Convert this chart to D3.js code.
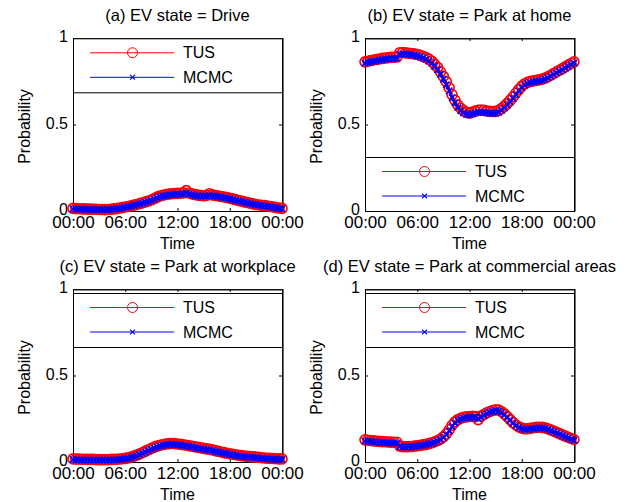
<!DOCTYPE html>
<html>
<head>
<meta charset="utf-8">
<script src="https://cdn.jsdelivr.net/npm/d3@7"></script>
<style>
    body { margin: 0; background: #fff; }
    svg { display: block; }
</style>
</head>
<body>
<svg id="chart" width="628" height="502"></svg>
<script>
// === Data: EV state probability over the day (20-min steps, 00:00 -> 24:00) ===
const xTickHours = [0, 6, 12, 18, 24];
const xTickLabels = ['00:00', '06:00', '12:00', '18:00', '00:00'];
const yTicks = [0, 0.5, 1];
const seriesNames = ['TUS', 'MCMC'];
const panelTitles = [
    '(a) EV state = Drive',
    '(b) EV state = Park at home',
    '(c) EV state = Park at workplace',
    '(d) EV state = Park at commercial areas'
];

const driveTUS = [0.015, 0.014, 0.013, 0.012, 0.012, 0.011, 0.011, 0.010, 0.010, 0.009, 0.009, 0.008,
    0.009, 0.010, 0.012, 0.014, 0.017, 0.020, 0.023, 0.026, 0.030, 0.034, 0.038, 0.043,
    0.048, 0.053, 0.058, 0.064, 0.072, 0.080, 0.087, 0.091, 0.095, 0.098, 0.100, 0.101,
    0.102, 0.103, 0.105, 0.118, 0.104, 0.099, 0.095, 0.092, 0.090, 0.088, 0.090, 0.100,
    0.093, 0.090, 0.087, 0.084, 0.081, 0.078, 0.074, 0.070, 0.066, 0.061, 0.057, 0.053,
    0.049, 0.045, 0.041, 0.038, 0.035, 0.033, 0.031, 0.029, 0.026, 0.023, 0.020, 0.017, 0.015];
const driveMCMC = [0.012, 0.011, 0.010, 0.010, 0.009, 0.009, 0.008, 0.008, 0.008, 0.007, 0.007, 0.007,
    0.008, 0.009, 0.011, 0.013, 0.015, 0.018, 0.021, 0.024, 0.028, 0.032, 0.036, 0.040,
    0.045, 0.050, 0.055, 0.061, 0.068, 0.076, 0.083, 0.087, 0.090, 0.093, 0.095, 0.096,
    0.097, 0.098, 0.099, 0.104, 0.098, 0.094, 0.090, 0.088, 0.086, 0.085, 0.086, 0.089,
    0.088, 0.086, 0.083, 0.080, 0.077, 0.074, 0.070, 0.066, 0.062, 0.058, 0.054, 0.050,
    0.046, 0.042, 0.039, 0.036, 0.033, 0.031, 0.029, 0.027, 0.024, 0.021, 0.018, 0.015, 0.013];

const homeTUS = [0.862, 0.866, 0.870, 0.873, 0.876, 0.879, 0.882, 0.884, 0.886, 0.888, 0.889, 0.890,
    0.915, 0.916, 0.914, 0.912, 0.910, 0.908, 0.905, 0.900, 0.894, 0.887, 0.878, 0.866,
    0.848, 0.830, 0.805, 0.778, 0.748, 0.712, 0.672, 0.640, 0.612, 0.594, 0.580, 0.570,
    0.566, 0.572, 0.578, 0.582, 0.584, 0.582, 0.578, 0.576, 0.575, 0.576, 0.582, 0.592,
    0.606, 0.622, 0.640, 0.660, 0.682, 0.703, 0.722, 0.735, 0.744, 0.749, 0.752, 0.755,
    0.758, 0.762, 0.768, 0.776, 0.785, 0.795, 0.805, 0.814, 0.823, 0.833, 0.843, 0.853, 0.862];
const homeMCMC = [0.855, 0.858, 0.862, 0.866, 0.869, 0.872, 0.875, 0.877, 0.879, 0.881, 0.882, 0.884,
    0.905, 0.908, 0.907, 0.905, 0.903, 0.900, 0.896, 0.891, 0.885, 0.877, 0.867, 0.854,
    0.836, 0.816, 0.790, 0.762, 0.730, 0.695, 0.656, 0.625, 0.598, 0.580, 0.567, 0.558,
    0.556, 0.561, 0.566, 0.570, 0.572, 0.570, 0.567, 0.565, 0.564, 0.565, 0.571, 0.582,
    0.596, 0.612, 0.630, 0.650, 0.672, 0.694, 0.713, 0.727, 0.737, 0.743, 0.746, 0.749,
    0.752, 0.756, 0.762, 0.770, 0.779, 0.789, 0.799, 0.808, 0.817, 0.827, 0.837, 0.847, 0.856];

const workTUS = [0.018, 0.017, 0.017, 0.016, 0.016, 0.015, 0.015, 0.015, 0.014, 0.014, 0.014, 0.014,
    0.014, 0.015, 0.015, 0.016, 0.017, 0.019, 0.021, 0.024, 0.028, 0.034, 0.040, 0.047,
    0.055, 0.063, 0.071, 0.079, 0.086, 0.092, 0.097, 0.101, 0.104, 0.106, 0.107, 0.106,
    0.104, 0.102, 0.100, 0.097, 0.094, 0.091, 0.088, 0.085, 0.082, 0.079, 0.076, 0.073,
    0.070, 0.066, 0.062, 0.058, 0.054, 0.051, 0.048, 0.045, 0.042, 0.039, 0.037, 0.035,
    0.033, 0.031, 0.030, 0.029, 0.027, 0.025, 0.023, 0.022, 0.021, 0.020, 0.019, 0.018, 0.018];
const workMCMC = [0.014, 0.013, 0.013, 0.012, 0.012, 0.012, 0.011, 0.011, 0.011, 0.011, 0.011, 0.011,
    0.011, 0.012, 0.012, 0.013, 0.014, 0.016, 0.018, 0.021, 0.025, 0.030, 0.036, 0.043,
    0.050, 0.058, 0.066, 0.074, 0.081, 0.087, 0.092, 0.096, 0.099, 0.101, 0.102, 0.101,
    0.099, 0.097, 0.095, 0.092, 0.089, 0.086, 0.083, 0.080, 0.077, 0.074, 0.071, 0.068,
    0.065, 0.061, 0.057, 0.053, 0.050, 0.047, 0.044, 0.041, 0.038, 0.035, 0.033, 0.031,
    0.029, 0.027, 0.026, 0.025, 0.023, 0.021, 0.019, 0.018, 0.017, 0.016, 0.015, 0.014, 0.014];

const commTUS = [0.128, 0.126, 0.124, 0.122, 0.120, 0.119, 0.118, 0.117, 0.116, 0.115, 0.114, 0.114,
    0.092, 0.089, 0.088, 0.089, 0.090, 0.092, 0.094, 0.096, 0.099, 0.102, 0.106, 0.111,
    0.117, 0.124, 0.133, 0.145, 0.162, 0.186, 0.212, 0.232, 0.245, 0.253, 0.258, 0.261,
    0.263, 0.264, 0.262, 0.245, 0.265, 0.275, 0.285, 0.292, 0.298, 0.302, 0.300, 0.292,
    0.278, 0.262, 0.245, 0.228, 0.214, 0.203, 0.196, 0.192, 0.192, 0.195, 0.198, 0.200,
    0.201, 0.200, 0.197, 0.192, 0.186, 0.179, 0.171, 0.164, 0.157, 0.150, 0.143, 0.136, 0.130];
const commMCMC = [0.122, 0.120, 0.118, 0.116, 0.115, 0.114, 0.113, 0.112, 0.111, 0.110, 0.110, 0.109,
    0.090, 0.087, 0.086, 0.087, 0.088, 0.090, 0.092, 0.094, 0.097, 0.100, 0.104, 0.109,
    0.114, 0.121, 0.130, 0.141, 0.157, 0.180, 0.205, 0.226, 0.240, 0.248, 0.253, 0.256,
    0.258, 0.259, 0.258, 0.252, 0.260, 0.270, 0.280, 0.287, 0.292, 0.296, 0.294, 0.286,
    0.272, 0.256, 0.240, 0.224, 0.210, 0.199, 0.192, 0.188, 0.188, 0.191, 0.194, 0.196,
    0.197, 0.196, 0.193, 0.188, 0.182, 0.175, 0.167, 0.160, 0.153, 0.146, 0.139, 0.132, 0.126];

(function () {
    const FONT = 'Arial, "Liberation Sans", Helvetica, sans-serif';
    const RED = '#ff0000';
    const BLUE = '#0000ff';

    // panel layout (left, top of axes box; legend box top relative to axes top)
    const panels = [
        { title: panelTitles[0], tus: driveTUS, mcmc: driveMCMC, left: 73, top: 38, legendY: 0.3 },
        { title: panelTitles[1], tus: homeTUS, mcmc: homeMCMC, left: 365, top: 38, legendY: 119 },
        { title: panelTitles[2], tus: workTUS, mcmc: workMCMC, left: 73, top: 289, legendY: 4 },
        { title: panelTitles[3], tus: commTUS, mcmc: commMCMC, left: 365, top: 289, legendY: 4 },
    ];
    const W = 209, H = 173;
    const LEG_H = 54;

    const svg = d3.select('#chart');
    svg.append('rect').attr('width', 628).attr('height', 502).attr('fill', '#fff');

    const x = d3.scaleLinear().domain([0, 24]).range([0, W]);
    const y = d3.scaleLinear().domain([0, 1]).range([H, 0]);

    const crossPath = s => `M${-s},${-s}L${s},${s}M${-s},${s}L${s},${-s}`;

    function toPoints(arr) {
        return arr.map((v, i) => ({ h: i * 24 / (arr.length - 1), v: v }));
    }

    function styleAxis(g, showLabels, size) {
        g.select('.domain').remove();
        g.selectAll('.tick line').attr('stroke', '#000');
        g.selectAll('text')
            .attr('font-family', FONT)
            .attr('font-size', size || 16)
            .attr('fill', '#000');
        if (!showLabels) g.selectAll('text').remove();
    }

    panels.forEach(p => {
        const g = svg.append('g').attr('transform', `translate(${p.left},${p.top})`);

        // Axes (ticks inside, like MATLAB)
        g.append('g')
            .attr('transform', `translate(0,${H})`)
            .call(d3.axisBottom(x).tickValues(xTickHours)
                .tickFormat((d, i) => xTickLabels[i])
                .tickSizeInner(-3).tickSizeOuter(0).tickPadding(5))
            .call(a => styleAxis(a, true, 17));

        g.append('g')
            .call(d3.axisTop(x).tickValues(xTickHours).tickSizeInner(-3).tickSizeOuter(0))
            .call(a => styleAxis(a, false));

        g.append('g')
            .call(d3.axisLeft(y).tickValues(yTicks).tickFormat(d3.format('~g'))
                .tickSizeInner(-3).tickSizeOuter(0).tickPadding(5))
            .call(a => styleAxis(a, true, 16));
        g.selectAll('.tick text').filter(function () { return this.getAttribute('dy') === '0.32em'; })
            .attr('y', -1.5);

        g.append('g')
            .attr('transform', `translate(${W},0)`)
            .call(d3.axisRight(y).tickValues(yTicks).tickSizeInner(-3).tickSizeOuter(0))
            .call(a => styleAxis(a, false));

        // Box
        g.append('rect')
            .attr('x', 0.5).attr('y', 0.5)
            .attr('width', W).attr('height', H)
            .attr('fill', 'none').attr('stroke', '#000').attr('stroke-width', 1);
        g.append('path')
            .attr('d', `M0.5,0.8H${W + 0.8}V${H + 0.5}`)
            .attr('fill', 'none').attr('stroke', '#111').attr('stroke-width', 1.6);

        // Series: TUS (red circles) then MCMC (blue crosses)
        const line = d3.line().x(d => x(d.h)).y(d => y(d.v));
        const tus = toPoints(p.tus);
        const mcmc = toPoints(p.mcmc);

        g.append('path').datum(tus)
            .attr('d', line).attr('fill', 'none').attr('stroke', RED).attr('stroke-width', 1.5);
        g.append('g').selectAll('circle')
            .data(tus).join('circle')
            .attr('cx', d => x(d.h)).attr('cy', d => y(d.v))
            .attr('r', 5).attr('fill', 'none').attr('stroke', RED).attr('stroke-width', 1.6);

        g.append('path').datum(mcmc)
            .attr('d', line).attr('fill', 'none').attr('stroke', BLUE).attr('stroke-width', 2);
        g.append('g').selectAll('path')
            .data(mcmc).join('path')
            .attr('transform', d => `translate(${x(d.h)},${y(d.v)})`)
            .attr('d', crossPath(3.2)).attr('fill', 'none').attr('stroke', BLUE).attr('stroke-width', 1.6);

        // Legend
        const leg = g.append('g').attr('transform', `translate(0,${p.legendY})`);
        leg.append('rect')
            .attr('x', 0.5).attr('y', 0.5)
            .attr('width', W).attr('height', LEG_H)
            .attr('fill', '#fff').attr('stroke', '#000').attr('stroke-width', 1);

        seriesNames.forEach((name, i) => {
            const ly = 14.5 + i * 24.5;
            const color = i === 0 ? RED : BLUE;
            leg.append('line')
                .attr('x1', 17).attr('x2', 101).attr('y1', ly).attr('y2', ly)
                .attr('stroke', color).attr('stroke-width', 1);
            if (i === 0) {
                leg.append('circle').attr('cx', 59.5).attr('cy', ly).attr('r', 5)
                    .attr('fill', 'none').attr('stroke', RED);
            } else {
                leg.append('path').attr('transform', `translate(59.5,${ly})`)
                    .attr('d', crossPath(2.4)).attr('fill', 'none').attr('stroke', BLUE).attr('stroke-width', 1.2);
            }
            leg.append('text')
                .attr('x', 110).attr('y', ly).attr('dy', '0.35em')
                .attr('font-family', FONT).attr('font-size', 16)
                .text(name);
        });

        // Title and axis labels
        g.append('text')
            .attr('x', W / 2).attr('y', -17)
            .attr('text-anchor', 'middle')
            .attr('font-family', FONT).attr('font-size', 16.5)
            .text(p.title);

        g.append('text')
            .attr('x', W / 2).attr('y', H + 38)
            .attr('text-anchor', 'middle')
            .attr('font-family', FONT).attr('font-size', 16)
            .text('Time');

        g.append('text')
            .attr('transform', `translate(-43.5,${H / 2 + 2}) rotate(-90)`)
            .attr('text-anchor', 'middle')
            .attr('font-family', FONT).attr('font-size', 16)
            .text('Probability');
    });
})();
</script>
</body>
</html>
